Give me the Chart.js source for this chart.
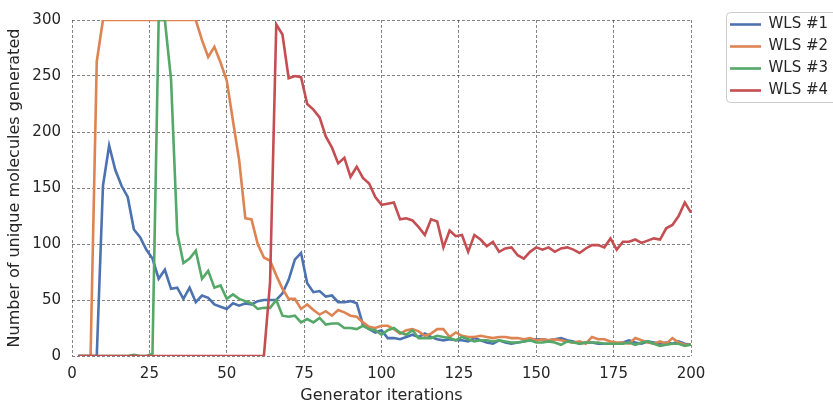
<!DOCTYPE html>
<html><head><meta charset="utf-8">
<script src="https://cdn.jsdelivr.net/npm/chart.js@4"></script>
<style>html,body{margin:0;padding:0;background:#fff}#wrap{width:833px;height:404px;position:relative}</style>
</head><body><div id="wrap"><canvas id="c"></canvas></div>
<script>
// x categories: generator iterations 2..200 (every 2nd iteration)
const iterations = Array.from({length: 100}, (_, i) => 2 * (i + 1));
const xTicks = [0, 25, 50, 75, 100, 125, 150, 175, 200];
const yTicks = [0, 50, 100, 150, 200, 250, 300];
const seriesNames = ['WLS #1', 'WLS #2', 'WLS #3', 'WLS #4'];

const wls1 = [0,0,0,0,
  152,188,166,152,142,113,106,95,87,69,77,60,61,51,61,48,54,52,46,44,42,47,45,47,46,49,50,50,50,
  56,68,86,92,65,57,58,53,54,48,48,49,47,28,24,21,23,
  16,16,15,17,19,17,20,17,15,14, 15,14,14,13,16,14,12,11,14,12,
  11,12,13,14,15,15,14,15,16,14, 13,11,12,12,11,11,11,11,12,14,
  12,11,13,12,11,12,11,13,11,10];

const wls2 = [0,0,0,263,
  300,300,300,300,300,300,300,300,300,300,300,300,300,300,300,300,
  282,267,276,262,246,210,175,123,122,100,88,85,72,60,51,51,42,46,41,37,40,36,41,39,36,35,30,26,25,27,
  27,24,20,23,24,22,18,20,24,24, 17,21,18,17,17,18,17,16,17,17,
  16,16,15,16,14,15,14,15,14,13, 12,13,11,17,15,15,13,12,12,11,
  16,14,12,11,13,11,16,12,10,10];

const wls3 = [0,0,0,0,0,0,0,0,0,
  1,0,0,2,
  300,300,
  247,110,83,87,94,69,76,61,63,51,55,51,49,47,42,43,43,50,36,35,36,30,33,30,34,28,29,29,25,25,24,27,24,23,19,
  23,25,21,19,23,16,16,16,18,17, 16,14,17,15,13,14,14,13,14,13,
  12,12,13,14,12,12,13,12,10,13, 12,11,12,12,12,11,11,11,11,12,
  10,12,13,11,9,10,11,11,9,10];

const wls4 = [0,0,0,0,0,0,0,0,0,0,0,0,0,0,0,0,0,0,0,0,0,0,0,0,0,0,0,0,0,0,0,
  66,296,287,248,250,249,225,220,213,196,186,172,177,160,169,159,154,142,135,136,
  137,122,123,121,115,108,122,120,97,112,107,108,93,108,104,98,102,93,96,97,
  90,87,93,97,95,97,93,96,97,95,92,96,99,99,97,105,95,102,102,104,
  101,103,105,104,114,117,125,137,128];

const seriesValues = [wls1, wls2, wls3, wls4];
const colors = ['#4C72B0', '#DD8452', '#55A868', '#C44E52'];
const textColor = '#262626';
const gridColor = 'rgba(60,60,60,0.8)';

const legendTweak = {
  id: 'legendTweak',
  beforeLayout(chart) {
    const lg = chart.legend;
    if (lg && !lg._patched) {
      const orig = lg.fit;
      lg.fit = function () { orig.call(this); this.width = 142; };
      lg._patched = true;
    }
  },
  afterLayout(chart) {
    const lg = chart.legend;
    if (lg) { lg.left = 723; lg.right = 833; lg.top = 10; }
  },
  afterDraw(chart) {
    const ctx = chart.ctx;
    ctx.save();
    ctx.strokeStyle = '#cccccc';
    ctx.lineWidth = 1;
    ctx.beginPath();
    ctx.roundRect(726.5, 12.5, 130, 90, 4);
    ctx.stroke();
    ctx.restore();
  }
};

new Chart(document.getElementById('c'), {
  type: 'line',
  data: {
    labels: iterations,
    datasets: seriesValues.map((vals, i) => ({
      label: seriesNames[i],
      data: vals,
      borderColor: colors[i],
      backgroundColor: colors[i],
      borderWidth: 2.6,
      pointRadius: 0,
      tension: 0,
      fill: false,
      order: 3 - i
    }))
  },
  options: {
    responsive: true,
    maintainAspectRatio: false,
    animation: false,
    layout: { padding: { top: 13, left: 0, bottom: 0, right: 0 } },
    plugins: {
      legend: {
        position: 'right',
        align: 'start',
        labels: {
          usePointStyle: true,
          pointStyle: 'line',
          pointStyleWidth: 31,
          padding: 7,
          color: textColor,
          font: { family: 'DejaVu Sans', size: 15 },
          sort: (a, b) => a.datasetIndex - b.datasetIndex
        }
      },
      tooltip: { enabled: false }
    },
    scales: {
      x: {
        type: 'linear',
        min: 0, max: 200,
        afterBuildTicks: s => { s.ticks = xTicks.map(v => ({ value: v })); },
        afterFit: s => { s.height = 48; },
        border: { display: false, dash: [3, 2] },
        grid: { color: gridColor, lineWidth: 0.8, drawTicks: false },
        ticks: { color: textColor, padding: 9, font: { family: 'DejaVu Sans', size: 15 }, maxRotation: 0 },
        title: { display: true, text: 'Generator iterations', color: textColor,
                 font: { family: 'DejaVu Sans', size: 16, lineHeight: 1.0 }, padding: { top: 0, bottom: 0 } }
      },
      y: {
        min: 0, max: 300,
        afterBuildTicks: s => { s.ticks = yTicks.map(v => ({ value: v })); },
        afterFit: s => { s.width = 72; },
        border: { display: false, dash: [3, 2] },
        grid: { color: gridColor, lineWidth: 0.8, drawTicks: false },
        ticks: { color: textColor, padding: 11, font: { family: 'DejaVu Sans', size: 15 } },
        title: { display: true, text: 'Number of unique molecules generated', color: textColor,
                 font: { family: 'DejaVu Sans', size: 16, lineHeight: 1.0 }, padding: { top: 7, bottom: 0 } }
      }
    }
  },
  plugins: [legendTweak]
});
</script>
</body></html>
